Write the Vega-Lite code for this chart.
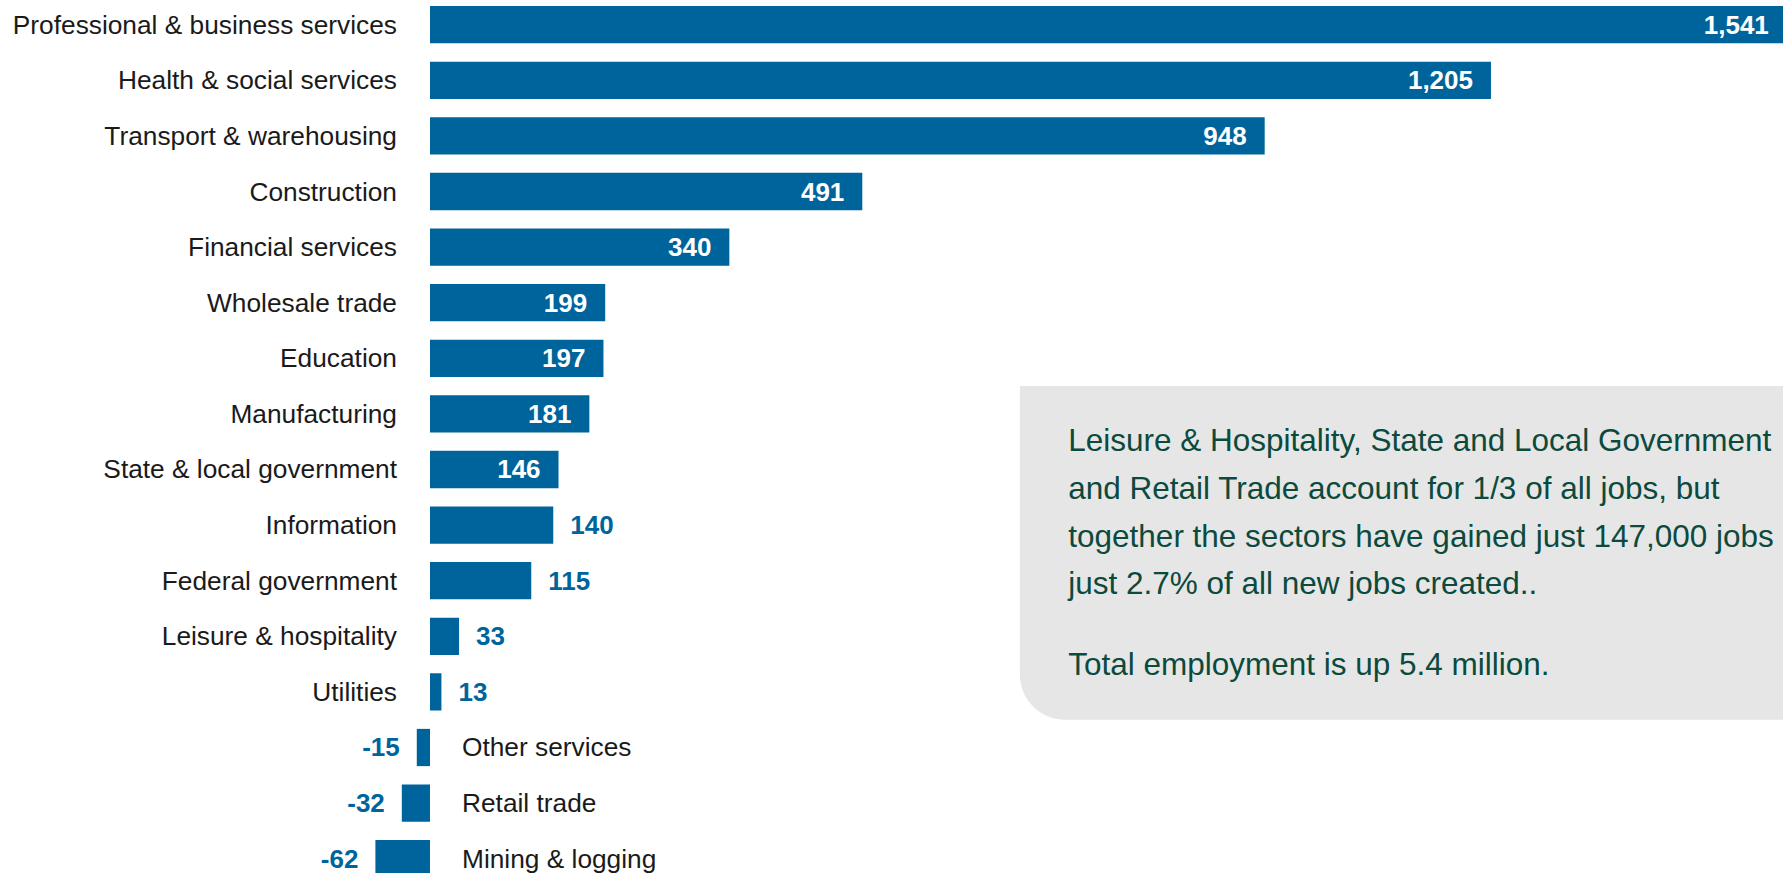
{
  "$schema": "https://vega.github.io/schema/vega-lite/v6.json",
  "autosize": "none",
  "width": 1411.4,
  "height": 873,
  "padding": {"left": 375.4, "top": 0, "right": 0, "bottom": 0},
  "background": "#ffffff",
  "config": {
    "view": {"stroke": null},
    "font": "Liberation Sans",
    "locale": {
      "number": {"decimal": ".", "thousands": ",", "grouping": [3], "currency": ["$", ""], "minus": "-"}
    }
  },
  "datasets": {
    "jobs": [
      {"sector": "Professional & business services", "value": 1541},
      {"sector": "Health & social services", "value": 1205},
      {"sector": "Transport & warehousing", "value": 948},
      {"sector": "Construction", "value": 491},
      {"sector": "Financial services", "value": 340},
      {"sector": "Wholesale trade", "value": 199},
      {"sector": "Education", "value": 197},
      {"sector": "Manufacturing", "value": 181},
      {"sector": "State & local government", "value": 146},
      {"sector": "Information", "value": 140},
      {"sector": "Federal government", "value": 115},
      {"sector": "Leisure & hospitality", "value": 33},
      {"sector": "Utilities", "value": 13},
      {"sector": "Other services", "value": -15},
      {"sector": "Retail trade", "value": -32},
      {"sector": "Mining & logging", "value": -62}
    ],
    "note": [
      {"x": 670, "x2": 1620, "top": 7, "bottom": 13}
    ],
    "noteText": [
      {"x": 725, "row": 8.17, "text": "Leisure & Hospitality, State and Local Government"},
      {"x": 725, "row": 9.03, "text": "and Retail Trade account for 1/3 of all jobs, but"},
      {"x": 725, "row": 9.89, "text": "together the sectors have gained just 147,000 jobs"},
      {"x": 725, "row": 10.74, "text": "just 2.7% of all new jobs created.."},
      {"x": 725, "row": 12.19, "text": "Total employment is up 5.4 million."}
    ]
  },
  "resolve": {"scale": {"y": "independent"}},
  "layer": [
    {
      "data": {"name": "jobs"},
      "encoding": {
        "y": {
          "field": "sector",
          "type": "nominal",
          "sort": null,
          "axis": null,
          "scale": {"range": [-3.1, 886.5], "paddingInner": 0.33, "paddingOuter": 0.165}
        }
      },
      "layer": [
        {
          "mark": {"type": "bar", "color": "#00649c"},
          "encoding": {
            "x": {
              "field": "value",
              "type": "quantitative",
              "axis": null,
              "scale": {"domain": [-62, 1541], "nice": false, "zero": true}
            }
          }
        },
        {
          "transform": [{"filter": "datum.value >= 0"}],
          "mark": {"type": "text", "align": "right", "baseline": "middle", "dx": -33, "dy": 1, "fontSize": 26.3, "color": "#1a1a1a"},
          "encoding": {
            "x": {"datum": 0, "type": "quantitative"},
            "text": {"field": "sector"}
          }
        },
        {
          "transform": [{"filter": "datum.value < 0"}],
          "mark": {"type": "text", "align": "left", "baseline": "middle", "dx": 32, "dy": 1, "fontSize": 26.3, "color": "#1a1a1a"},
          "encoding": {
            "x": {"datum": 0, "type": "quantitative"},
            "text": {"field": "sector"}
          }
        },
        {
          "transform": [{"filter": "datum.value >= 146"}],
          "mark": {"type": "text", "align": "right", "baseline": "middle", "dx": -18, "dy": 1, "fontSize": 26, "fontWeight": "bold", "color": "#ffffff"},
          "encoding": {
            "x": {"field": "value", "type": "quantitative"},
            "text": {"field": "value", "format": ","}
          }
        },
        {
          "transform": [{"filter": "datum.value >= 0 && datum.value < 146"}],
          "mark": {"type": "text", "align": "left", "baseline": "middle", "dx": 17, "dy": 1, "fontSize": 26, "fontWeight": "bold", "color": "#00649c"},
          "encoding": {
            "x": {"field": "value", "type": "quantitative"},
            "text": {"field": "value", "format": ","}
          }
        },
        {
          "transform": [{"filter": "datum.value < 0"}],
          "mark": {"type": "text", "align": "right", "baseline": "middle", "dx": -17, "dy": 1, "fontSize": 26, "fontWeight": "bold", "color": "#00649c"},
          "encoding": {
            "x": {"field": "value", "type": "quantitative"},
            "text": {"field": "value", "format": ","}
          }
        }
      ]
    },
    {
      "encoding": {
        "y": {
          "type": "quantitative",
          "axis": null,
          "scale": {"domain": [0, 16], "range": [-3.1, 886.5], "nice": false, "zero": false}
        }
      },
      "layer": [
        {
          "data": {"name": "note"},
          "mark": {"type": "rect", "color": "#e6e6e6", "cornerRadiusBottomLeft": 45},
          "encoding": {
            "x": {"field": "x", "type": "quantitative"},
            "x2": {"field": "x2"},
            "y": {"field": "top", "type": "quantitative"},
            "y2": {"field": "bottom"}
          }
        },
        {
          "data": {"name": "noteText"},
          "mark": {"type": "text", "align": "left", "baseline": "alphabetic", "fontSize": 31.5, "color": "#0b4a3c"},
          "encoding": {
            "x": {"field": "x", "type": "quantitative"},
            "y": {"field": "row", "type": "quantitative"},
            "text": {"field": "text"}
          }
        }
      ]
    }
  ]
}
